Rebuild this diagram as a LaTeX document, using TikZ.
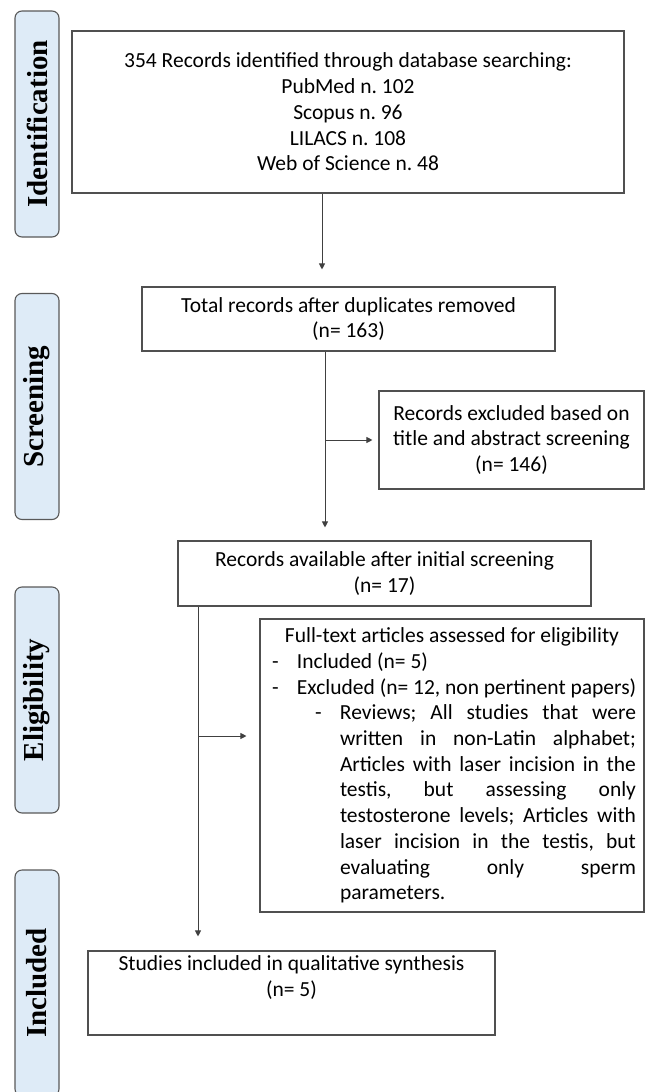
\documentclass[tikz,border=0pt]{standalone}
\usepackage{fontspec}
\setmainfont{Carlito}
\newfontfamily\tabfont{Liberation Serif}
\usetikzlibrary{arrows.meta,positioning,calc}
\definecolor{tabfill}{RGB}{222,235,247}
\definecolor{tabline}{RGB}{89,89,89}
\definecolor{boxline}{RGB}{80,80,80}
\definecolor{arrline}{RGB}{64,64,64}
\frenchspacing
% justified line of the nested list
\newcommand{\jline}[1]{\hspace*{80pt}\makebox[296pt][s]{#1}}

\begin{document}
\begin{tikzpicture}[x=1pt,y=-1pt,
    phase/.style={draw=tabline,line width=1.1pt,fill=tabfill,rounded corners=7pt,rotate=90,
      minimum width=226pt,minimum height=44pt,inner sep=0pt,
      font=\tabfont\bfseries\fontsize{29}{34}\selectfont},
    stage/.style={draw=boxline,line width=1.1pt,inner sep=0pt,align=center,
      font=\fontsize{21.5}{25.7}\selectfont,
      execute at begin node={\spaceskip=0pt\xspaceskip=0pt}},
    flow/.style={draw=arrline,line width=0.9pt,-{Triangle[length=6pt,width=6pt]}}]
  \useasboundingbox (0,0) rectangle (646,1092);

  % phase tabs on the left
  \foreach \y/\lbl/\nm in {124/Identification/idtab, 406.5/Screening/scrtab,
      700/Eligibility/eltab, 983/Included/inctab}
    \node[phase] (\nm) at (37,\y) {\lbl};

  % flow boxes
  \node[stage,minimum width=552pt,minimum height=162pt] (found) at (348,112)
    {354 Records identified through database searching:\\PubMed n. 102\\Scopus n. 96\\LILACS n. 108\\Web of Science n. 48};
  \node[stage,minimum width=413pt,minimum height=64pt] (dedup) at (348.5,319)
    {Total records after duplicates removed\\(n= 163)};
  \node[stage,minimum width=265pt,minimum height=98pt] (dropped) at (511.5,440)
    {Records excluded based on\\title and abstract screening\\(n= 146)};
  \node[stage,minimum width=413pt,minimum height=65pt] (kept) at (384.5,573.5)
    {Records available after initial screening\\(n= 17)};
  \node[stage,minimum width=384pt,minimum height=293pt,text width=384pt,align=left] (fulltext) at (452,765.5)
    {\makebox[384pt][c]{Full-text articles assessed for eligibility}\\
     \hspace*{12pt}\makebox[25pt][l]{-}\mbox{Included (n= 5)}\\
     \hspace*{12pt}\makebox[25pt][l]{-}\mbox{Excluded (n= 12, non pertinent papers)}\\
     \hspace*{55pt}\makebox[25pt][l]{-}\makebox[296pt][s]{Reviews; All studies that were}\\
     \jline{written in non-Latin alphabet;}\\
     \jline{Articles with laser incision in the}\\
     \jline{testis, but assessing only}\\
     \jline{testosterone levels; Articles with}\\
     \jline{laser incision in the testis, but}\\
     \jline{evaluating only sperm}\\
     \hspace*{80pt}parameters.};
  \node[stage,minimum width=407pt,minimum height=84pt] (final) at (291.5,993)
    {Studies included in qualitative synthesis\\(n= 5)\\\strut};

  % connectors
  \coordinate (s1) at (322,0);
  \coordinate (s2) at (325,0);
  \coordinate (s3) at (198,0);
  \coordinate (j3) at (198,736);
  \draw[flow,shorten >=17pt] (found.south -| s1) -- (dedup.north -| s1);
  \draw[flow,shorten >=13pt] (dedup.south -| s2) -- (kept.north -| s2);
  \draw[flow,shorten >=6pt] (dropped.west -| s2) -- (dropped.west);
  \draw[flow,shorten >=14pt] (kept.south -| s3) -- (final.north -| s3);
  \draw[flow,shorten >=13pt] (j3) -- (j3 -| fulltext.west);
\end{tikzpicture}
\end{document}
